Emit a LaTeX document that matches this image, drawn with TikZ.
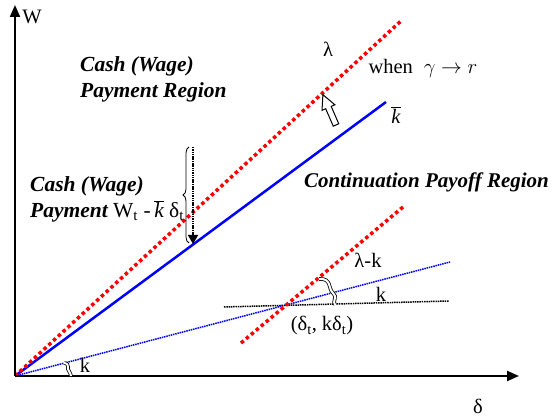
\documentclass[tikz,border=0pt]{standalone}
\usepackage{fontspec}
\setmainfont{Liberation Serif}
\usetikzlibrary{arrows.meta,decorations.pathreplacing}
\newcommand{\mykbar}{\ensuremath{\overline{\mbox{\normalfont\itshape k}}}}
\begin{document}
\begin{tikzpicture}[x=1pt,y=1pt,
 axis/.style={line width=2pt,-{Triangle[length=12pt,width=10pt]}},
 reddot/.style={red,line width=3.5pt,dash pattern=on 3.5pt off 3pt},
 bluesolid/.style={blue,line width=2.5pt},
 bluedot/.style={blue,line width=1.5pt,dash pattern=on 1.5pt off 0.8pt},
 blackdot/.style={black,line width=1.5pt,dash pattern=on 1.5pt off 0.8pt},
 lbl/.style={font=\fontsize{20.5}{24}\selectfont,inner sep=0pt},
 region/.style={font=\fontsize{21.5}{26}\selectfont\bfseries\itshape,inner sep=0pt,align=left},
 hook/.style={double=white,double distance=2pt,line width=0.8pt}
]
\useasboundingbox (0,0) rectangle (556,419);
\coordinate (O) at (15,43);
\coordinate (Ytop) at (15,414);
\coordinate (Xend) at (519,43);
% lines
\coordinate (R1e) at (402,399);
\coordinate (Be) at (386,317);
\coordinate (R2s) at (241,76);
\coordinate (R2e) at (403,212);
\coordinate (BDe) at (450,157);
\coordinate (Hs) at (224,112);
\coordinate (He) at (449,118);
\draw[bluedot] (O) -- (BDe);
\draw[blackdot] (Hs) -- (He);
\draw[bluesolid] (O) -- (Be);
\draw[reddot] (O) -- (R1e);
\draw[reddot] (R2s) -- (R2e);
\draw[axis] (O) -- (Ytop);
\draw[axis] (O) -- (Xend);
% labels
\node[lbl] (W) at (32,402) {W};
\node[lbl] (delta) at (478,13) {δ};
\node[lbl] (lam) at (328,370) {λ};
\node[lbl] (when) at (423,351) {when\; $\gamma\rightarrow r$};
\node[lbl] (kbar) at (396,304) {\mykbar};
\node[lbl] (lamk) at (368,159) {λ-k};
\node[lbl] (k1) at (381,125) {k};
\node[lbl] (pt) at (322,93) {(δ\textsubscript{t}, kδ\textsubscript{t})};
\node[lbl] (k2) at (85,54) {k};
\node[region,font=\fontsize{21}{26}\selectfont\bfseries\itshape,anchor=west] (cpr) at (304,237) {Continuation Payoff Region};
\node[region,anchor=west] (cash1) at (80,340) {Cash (Wage)\\Payment Region};
\node[region,anchor=west] (cash2) at (30,220) {Cash (Wage)\\Payment {\normalfont W\textsubscript{t} -\,\mykbar{} δ\textsubscript{t}}};
% hollow arrow
\begin{scope}[shift={(336,294)},rotate=113.4]
\draw[line width=1pt,fill=white] (0,-3) -- (19,-3) -- (19,-7) -- (33,0) -- (19,7) -- (19,3) -- (0,3) -- cycle;
\end{scope}
% brace and dotted arrow
\coordinate (Bt) at (189,272);
\coordinate (Bb) at (189,176);
\draw[line width=0.8pt,decorate,decoration={brace,amplitude=6pt}] (Bb) -- (Bt);
\coordinate (Ds) at (193,272);
\coordinate (De) at (193,175);
\draw[blackdot,-{Triangle[length=9pt,width=10pt]}] (Ds) -- (De);
% hooks
\draw[hook] (319,140) .. controls (332,141) and (328,130) .. (333,126) .. controls (338,122) and (332,118) .. (335,114);
\draw[hook] (64,56) .. controls (71,55) and (66,50) .. (69,48) .. controls (72,46) and (69,44) .. (71,43);
\end{tikzpicture}
\end{document}
